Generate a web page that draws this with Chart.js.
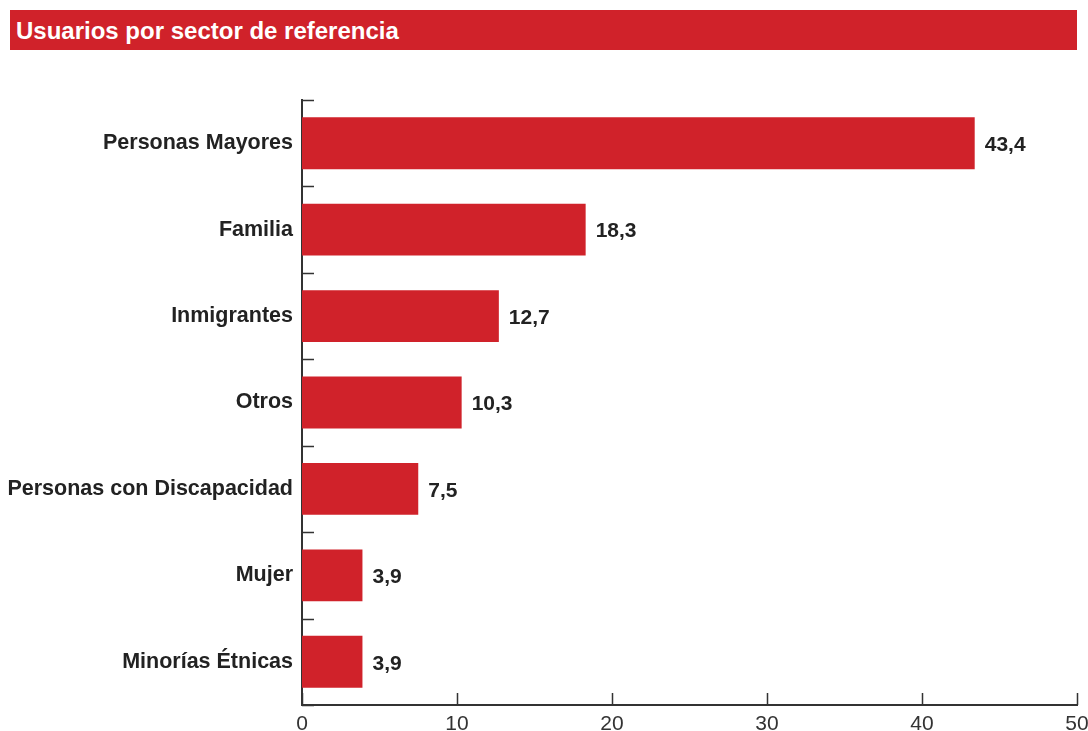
<!DOCTYPE html>
<html lang="es">
  <head>
    <meta charset="UTF-8" />
    <title>Usuarios por sector de referencia</title>
    <script src="https://cdn.jsdelivr.net/npm/chart.js"></script>
    <style>
      body {
        margin: 0;
        background-color: #fff;
        font-family: "Liberation Sans", Arial, sans-serif;
      }
      .wrap {
        position: relative;
        width: 1088px;
        height: 731px;
      }
      .title {
        position: absolute;
        left: 10px;
        top: 10px;
        width: 1067px;
        height: 40px;
        background-color: #d0222a;
        color: #fff;
        font-weight: bold;
        font-size: 24px;
        line-height: 41px;
        padding-left: 6px;
        box-sizing: border-box;
      }
      canvas {
        position: absolute;
        left: 0;
        top: 0;
      }
    </style>
  </head>
  <body>
    <div class="wrap">
      <canvas id="sectorChart" width="1088" height="731"></canvas>
      <div class="title">Usuarios por sector de referencia</div>
    </div>
    <script>
      const categories = [
        "Personas Mayores",
        "Familia",
        "Inmigrantes",
        "Otros",
        "Personas con Discapacidad",
        "Mujer",
        "Minorías Étnicas",
      ];
      const values = [43.4, 18.3, 12.7, 10.3, 7.5, 3.9, 3.9];
      const xTicks = [0, 10, 20, 30, 40, 50];

      const red = "#d0222a";
      const axisColor = "#333";
      const fontFamily = "'Liberation Sans', Arial, sans-serif";

      // inward tick marks on both axes
      const tickMarks = {
        id: "tickMarks",
        afterDraw(chart) {
          const ctx = chart.ctx;
          const x = chart.scales.x;
          const y = chart.scales.y;
          ctx.save();
          ctx.strokeStyle = axisColor;
          ctx.lineWidth = 1.5;
          ctx.beginPath();
          xTicks.forEach((v) => {
            const px = Math.round(x.getPixelForValue(v)) + 0.5;
            ctx.moveTo(px, y.bottom);
            ctx.lineTo(px, y.bottom - 12);
          });
          const step = (y.bottom - y.top) / categories.length;
          for (let i = 0; i <= categories.length; i++) {
            const py = Math.round(y.getPixelForValue(0) - step / 2 + i * step) + 0.5;
            ctx.moveTo(x.left, py);
            ctx.lineTo(x.left + 12, py);
          }
          ctx.stroke();
          ctx.restore();
        },
      };

      const valueLabels = {
        id: "valueLabels",
        afterDatasetsDraw(chart) {
          const ctx = chart.ctx;
          const meta = chart.getDatasetMeta(0);
          ctx.save();
          ctx.fillStyle = "#222";
          ctx.font = "bold 21px " + fontFamily;
          ctx.textBaseline = "middle";
          ctx.textAlign = "left";
          meta.data.forEach((bar, i) => {
            ctx.fillText(values[i].toFixed(1).replace(".", ","), bar.x + 10, bar.y + 2);
          });
          ctx.restore();
        },
      };

      new Chart(document.getElementById("sectorChart"), {
        type: "bar",
        data: {
          labels: categories,
          datasets: [
            {
              data: values,
              backgroundColor: red,
              borderWidth: 0,
              barPercentage: 0.6,
              categoryPercentage: 1,
            },
          ],
        },
        options: {
          indexAxis: "y",
          responsive: false,
          animation: false,
          layout: { padding: { top: 100, right: 11, left: 0, bottom: 0 } },
          plugins: {
            legend: { display: false },
            tooltip: { enabled: false },
          },
          scales: {
            x: {
              min: 0,
              max: 50,
              afterBuildTicks(scale) {
                scale.ticks = xTicks.map((v) => ({ value: v }));
              },
              afterFit(scale) {
                scale.height = 26;
                scale.paddingLeft = 0;
                scale.paddingRight = 0;
              },
              grid: { display: false, drawTicks: false },
              border: { display: true, color: axisColor, width: 2 },
              ticks: {
                padding: 7,
                maxRotation: 0,
                color: "#333",
                font: { family: fontFamily, size: 21 },
              },
            },
            y: {
              afterFit(scale) {
                scale.width = 302;
              },
              grid: { display: false, drawTicks: false },
              border: { display: true, color: axisColor, width: 2 },
              ticks: {
                padding: 9,
                color: "#222",
                font: { family: fontFamily, size: 21.5, weight: "bold", lineHeight: 1.0 },
              },
            },
          },
        },
        plugins: [tickMarks, valueLabels],
      });
    </script>
  </body>
</html>
